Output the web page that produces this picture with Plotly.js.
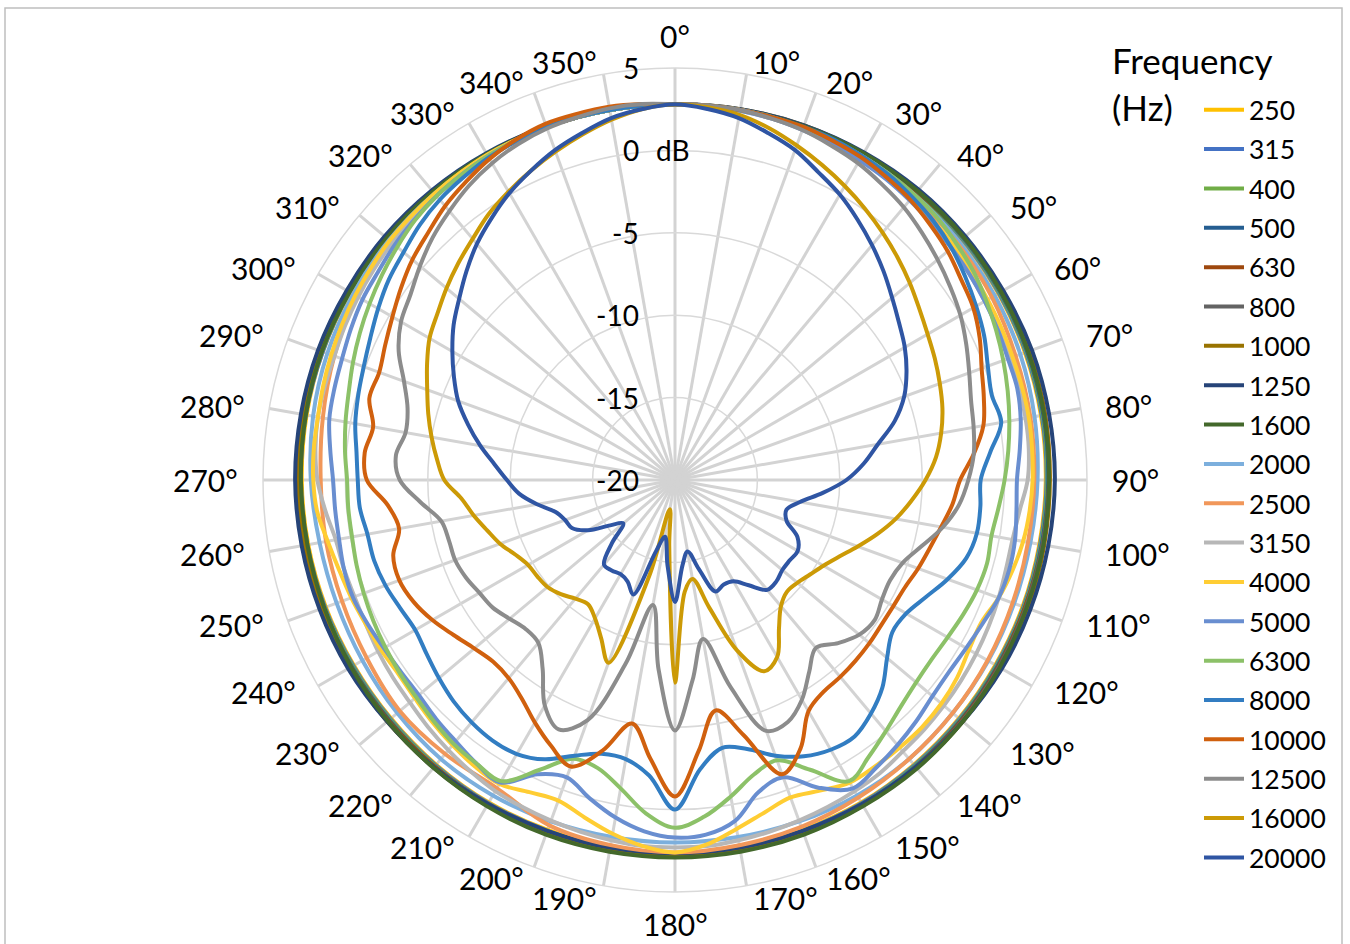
<!DOCTYPE html>
<html>
<head>
<meta charset="utf-8">
<script src="https://cdn.plot.ly/plotly-3.0.1.min.js"></script>
<style>html,body{margin:0;padding:0;background:#fff;}#chart{width:1350px;height:944px;}</style>
</head>
<body>
<div id="chart"></div>
<script>
// Angle grids (degrees, clockwise from the top)
const ang10 = [0,10,20,30,40,50,60,70,80,90,100,110,120,130,140,150,160,170,180,190,200,210,220,230,240,250,260,270,280,290,300,310,320,330,340,350];
const ang5 = [0,5,10,15,20,25,30,35,40,45,50,55,60,65,70,75,80,85,90,95,100,105,110,115,120,125,130,135,140,145,150,155,160,165,170,175,180,185,190,195,200,205,210,215,220,225,230,235,240,245,250,255,260,265,270,275,280,285,290,295,300,305,310,315,320,325,330,335,340,345,350,355];

// Frequency labels (Hz)
const freqs = ['250','315','400','500','630','800','1000','1250','1600','2000','2500','3150','4000','5000','6300','8000','10000','12500','16000','20000'];
const colors = ['#FFC000','#4472C4','#70AD47','#255E91','#9E480E','#636363','#997300','#264478','#43682B','#7CAFDD','#F1975A','#B7B7B7','#FFCD33','#698ED0','#8CC168','#327DC2','#D0600E','#8C8C8C','#CC9A06','#2F55A3'];

// Levels in dB (10 degree grid)
const v250  = [2.8,2.8,2.75,2.7,2.7,2.7,2.65,2.6,2.55,2.5,2.45,2.45,2.45,2.5,2.55,2.6,2.6,2.65,2.65,2.65,2.6,2.6,2.55,2.5,2.5,2.55,2.6,2.65,2.7,2.75,2.75,2.8,2.8,2.8,2.8,2.8];
const v315  = [2.8,2.8,2.75,2.75,2.75,2.75,2.7,2.65,2.6,2.55,2.5,2.5,2.5,2.55,2.6,2.65,2.65,2.7,2.7,2.7,2.65,2.65,2.6,2.55,2.55,2.6,2.65,2.7,2.75,2.75,2.8,2.8,2.8,2.8,2.8,2.8];
const v400  = [2.8,2.8,2.8,2.8,2.8,2.8,2.75,2.7,2.65,2.6,2.55,2.55,2.55,2.6,2.65,2.7,2.7,2.75,2.75,2.75,2.7,2.7,2.65,2.6,2.6,2.65,2.7,2.75,2.8,2.8,2.8,2.8,2.8,2.8,2.8,2.8];
const v500  = [2.8,2.8,2.8,2.8,2.85,2.85,2.8,2.75,2.7,2.65,2.6,2.6,2.6,2.65,2.7,2.75,2.75,2.75,2.75,2.75,2.75,2.7,2.7,2.65,2.65,2.7,2.75,2.8,2.8,2.85,2.85,2.85,2.8,2.8,2.8,2.8];
const v630  = [2.8,2.8,2.8,2.85,2.85,2.9,2.9,2.85,2.8,2.7,2.65,2.6,2.65,2.7,2.75,2.8,2.8,2.8,2.8,2.8,2.8,2.75,2.7,2.7,2.7,2.75,2.8,2.85,2.85,2.9,2.9,2.85,2.85,2.8,2.8,2.8];
const v800  = [2.8,2.8,2.85,2.85,2.9,2.9,2.85,2.8,2.75,2.7,2.65,2.65,2.7,2.75,2.8,2.8,2.8,2.75,2.75,2.75,2.8,2.8,2.8,2.75,2.7,2.7,2.75,2.8,2.85,2.9,2.9,2.9,2.85,2.85,2.8,2.8];
const v1000 = [2.8,2.85,2.9,2.9,2.95,2.95,2.9,2.85,2.8,2.75,2.75,2.8,2.8,2.8,2.8,2.75,2.7,2.7,2.7,2.7,2.7,2.7,2.75,2.8,2.8,2.8,2.85,2.9,2.9,2.9,2.9,2.9,2.9,2.85,2.85,2.8];
const v1250 = [2.8,2.85,2.9,2.95,3.0,3.0,3.0,3.05,3.05,3.05,3.0,2.95,2.9,2.8,2.75,2.7,2.65,2.65,2.65,2.65,2.65,2.7,2.75,2.8,2.9,2.95,3.0,3.05,3.05,3.05,3.0,3.0,2.95,2.9,2.85,2.8];
const v1600 = [2.8,2.8,2.85,2.9,2.9,2.9,2.85,2.8,2.75,2.7,2.7,2.7,2.75,2.8,2.85,2.85,2.9,2.9,2.9,2.9,2.9,2.85,2.8,2.75,2.7,2.65,2.65,2.7,2.75,2.8,2.8,2.85,2.85,2.85,2.8,2.8];
const v2000 = [2.8,2.8,2.75,2.7,2.6,2.5,2.4,2.3,2.15,2.0,1.9,1.9,1.95,2.0,2.1,2.1,2.05,2.0,2.0,2.0,2.05,2.1,2.1,2.0,1.9,1.85,1.9,2.1,2.3,2.45,2.55,2.65,2.7,2.75,2.8,2.8];
const v2500 = [2.8,2.8,2.75,2.65,2.5,2.35,2.2,2.0,1.9,1.8,1.75,1.8,1.9,2.0,2.1,2.25,2.4,2.5,2.6,2.5,2.3,1.6,1.7,1.8,1.6,1.5,1.5,1.5,1.7,2.0,2.3,2.5,2.65,2.75,2.8,2.8];

// Levels in dB (5 degree grid)
const v3150 = [2.8,2.8,2.75,2.7,2.65,2.55,2.45,2.35,2.2,2.05,1.9,1.8,1.7,1.65,1.6,1.6,1.6,1.55,1.4,1.0,0.8,0.8,0.9,1.0,1.1,1.2,1.3,1.4,1.5,1.7,1.8,1.9,2.0,2.1,2.2,2.3,2.3,2.3,2.2,2.1,2.0,1.9,1.8,1.6,1.4,1.2,1.0,0.9,0.8,0.7,0.7,0.8,0.9,1.3,1.7,1.9,2.0,2.0,2.0,2.1,2.2,2.3,2.4,2.5,2.6,2.65,2.7,2.75,2.8,2.8,2.8,2.8];
const v4000 = [2.8,2.8,2.8,2.75,2.7,2.6,2.5,2.4,2.3,2.2,2.1,2.0,1.9,1.85,1.8,1.8,1.8,1.75,1.7,1.6,1.45,1.2,0.9,0.5,0.6,0.9,1.1,1.2,1.2,1.2,1.2,0.8,0.5,0.9,1.5,2.2,2.6,2.3,1.8,1.2,0.7,0.9,1.3,1.2,1.0,0.8,0.6,0.5,0.6,0.7,0.9,1.1,1.4,1.8,1.95,2.0,2.0,2.1,2.2,2.3,2.4,2.5,2.6,2.65,2.7,2.75,2.8,2.8,2.8,2.8,2.8,2.8];
const v5000 = [2.8,2.8,2.75,2.7,2.6,2.5,2.4,2.3,2.15,2.0,1.9,1.8,1.7,1.6,1.5,1.5,1.3,1.0,0.75,0.8,0.95,1.0,0.9,0.6,0.4,0.3,0.4,0.7,1.0,1.3,1.6,0.6,-0.8,-0.4,1.0,1.6,1.7,1.4,0.8,0.0,-0.8,-0.3,1.2,1.0,0.7,0.5,0.3,0.3,0.4,0.6,0.8,0.8,0.7,0.7,0.75,1.0,1.3,1.4,1.5,1.7,1.9,2.0,2.2,2.35,2.5,2.6,2.7,2.75,2.8,2.8,2.8,2.8];
const v6300 = [2.8,2.8,2.8,2.8,2.75,2.75,2.7,2.65,2.6,2.5,2.3,2.1,1.8,1.5,1.2,0.9,0.6,0.3,0.0,-0.3,-0.5,-0.4,-0.5,-0.7,-0.9,-1.0,-0.9,-0.6,-0.1,0.5,1.1,-0.6,-1.9,-1.5,-0.5,0.5,1.1,0.3,-1.0,-1.9,-2.0,-0.6,1.1,1.0,0.9,0.7,0.5,0.4,0.3,0.2,0.1,0.0,-0.1,-0.1,-0.1,0.1,0.3,0.5,0.8,1.1,1.4,1.7,2.0,2.3,2.5,2.6,2.7,2.75,2.8,2.8,2.8,2.8];
const v8000 = [2.8,2.8,2.8,2.8,2.8,2.8,2.7,2.6,2.4,2.2,1.9,1.5,1.1,0.7,0.2,-0.1,0.1,-0.8,-1.45,-1.4,-1.4,-1.7,-2.4,-3.2,-3.8,-3.9,-3.2,-2.2,-1.5,-1.0,-1.1,-1.5,-2.2,-3.1,-3.5,-2.4,0.0,-2.0,-2.8,-2.8,-2.2,-1.3,-0.8,-0.7,-0.8,-1.0,-1.3,-1.6,-1.8,-1.6,-1.3,-1.1,-1.05,-0.8,-0.75,-0.6,-0.3,-0.1,0.1,0.4,0.8,1.2,1.5,1.9,2.2,2.4,2.6,2.7,2.8,2.8,2.8,2.8];
const v10000 = [2.8,2.8,2.8,2.8,2.8,2.7,2.6,2.4,2.2,1.9,1.6,1.2,0.9,0.4,-0.2,-0.6,-1.0,-1.8,-2.7,-3.1,-3.6,-4.0,-4.3,-4.6,-4.7,-4.7,-4.6,-4.5,-4.4,-4.3,-3.8,-2.0,-1.0,-4.0,-5.8,-3.5,-0.8,-3.0,-5.0,-3.0,-1.5,-2.2,-3.0,-3.8,-4.3,-4.4,-4.1,-3.6,-3.0,-2.5,-2.2,-2.3,-3.0,-2.5,-1.3,-1.1,-1.4,-0.8,-0.9,-0.6,-0.2,0.3,0.8,1.2,1.7,2.1,2.5,2.8,3.0,3.0,3.0,2.9];
const v12500 = [2.8,2.8,2.8,2.7,2.6,2.4,2.2,1.9,1.6,1.2,0.8,0.4,0.0,-0.5,-1.0,-1.4,-1.6,-1.8,-2.2,-2.7,-3.5,-4.5,-5.3,-5.6,-5.5,-5.2,-5.4,-6.0,-6.7,-5.8,-4.6,-3.8,-3.8,-7.0,-10.2,-7.8,-4.8,-8.5,-12.3,-8.5,-4.5,-3.3,-4.2,-6.0,-7.1,-7.2,-6.9,-6.5,-6.3,-6.0,-5.8,-5.8,-5.6,-4.5,-3.3,-3.0,-3.4,-3.2,-2.5,-1.5,-0.8,-0.4,0.2,0.8,1.3,1.8,2.2,2.5,2.7,2.8,2.9,2.9];
const v16000 = [2.8,2.7,2.5,2.1,1.6,1.1,0.6,0.1,-0.4,-0.9,-1.4,-1.9,-2.3,-2.6,-2.9,-3.2,-3.6,-4.1,-4.8,-5.6,-6.4,-7.3,-8.2,-9.0,-9.6,-10.0,-10.3,-10.4,-10.0,-9.0,-7.6,-7.2,-9.0,-12.0,-13.9,-13.2,-7.7,-16.0,-18.2,-14.0,-8.2,-9.4,-10.3,-10.8,-10.6,-10.2,-9.9,-9.8,-9.7,-9.3,-8.7,-8.2,-7.6,-7.0,-6.0,-5.5,-5.0,-4.5,-4.0,-3.4,-2.8,-2.4,-1.9,-1.4,-0.9,-0.3,0.2,0.7,1.2,1.7,2.2,2.6];
const v20000 = [2.8,2.6,2.3,1.8,1.3,0.6,0.0,-0.7,-1.4,-2.1,-2.8,-3.4,-3.9,-4.5,-5.2,-6.2,-7.5,-8.5,-9.6,-11.0,-12.3,-13.0,-12.8,-11.8,-11.4,-11.5,-11.5,-11.3,-11.3,-12.2,-12.9,-13.0,-12.8,-14.4,-15.6,-14.8,-12.6,-14.8,-16.5,-15.5,-12.6,-13.2,-13.4,-13.3,-13.3,-14.6,-15.9,-15.2,-13.9,-13.1,-12.9,-12.5,-11.5,-10.5,-9.8,-9.0,-8.0,-7.0,-6.0,-5.2,-4.4,-3.6,-2.9,-2.1,-1.3,-0.6,0.1,0.7,1.3,1.8,2.3,2.6];

const seriesVals = [v250,v315,v400,v500,v630,v800,v1000,v1250,v1600,v2000,v2500,v3150,v4000,v5000,v6300,v8000,v10000,v12500,v16000,v20000];

// Radial axis ticks
const rRange = [-20, 5];
const rTicks = [-20,-15,-10,-5,0,5];
const rTickText = ['-20','-15','-10','-5','0','5'];
// Angular tick labels (degrees)
const angTicks = ang10;

const traces = seriesVals.map((vals, i) => {
  const th = vals.length === ang10.length ? ang10 : ang5;
  return {
    type: 'scatterpolar',
    mode: 'lines',
    name: freqs[i],
    legendgroup: 'g' + i,
    theta: th.concat([th[0] + 360]),
    r: vals.concat([vals[0]]),
    line: {color: colors[i], width: 4, shape: 'spline', smoothing: 1},
    hoverinfo: 'skip'
  };
});

const W = 1350, H = 944;
const cx = 675, cy = 480, R = 412;
const FONT = 'Lato, "Open Sans", sans-serif';

// radial tick labels, placed left of the 0° spoke at each ring
const radialLabels = rTicks.map((t, i) => ({
  xref: 'paper', yref: 'paper',
  x: 641 / W,
  y: 1 - (cy - (t - rRange[0]) / (rRange[1] - rRange[0]) * R) / H,
  xanchor: 'right', yanchor: 'middle',
  text: rTickText[i], showarrow: false,
  font: {size: 28, family: FONT, color: '#000000'}
}));

// angular tick labels just outside the outer ring
const LX = 435, LY = 424;
const angularLabels = angTicks.map(a => {
  const rad = a * Math.PI / 180;
  const px = cx + LX * Math.sin(rad);
  const py = cy - LY * Math.cos(rad);
  let xa = 'center', ya = 'middle';
  if (a === 0) { ya = 'bottom'; }
  else if (a === 180) { ya = 'top'; }
  else if (a < 180) { xa = 'left'; }
  else { xa = 'right'; }
  return {
    xref: 'paper', yref: 'paper', x: px / W, y: 1 - py / H,
    xanchor: xa, yanchor: ya, text: a + '°', showarrow: false,
    font: {size: 30, family: FONT, color: '#000000'}
  };
});

const layout = {
  width: W, height: H,
  margin: {l: 0, r: 0, t: 0, b: 0},
  paper_bgcolor: '#ffffff',
  font: {family: FONT, color: '#000000'},
  showlegend: true,
  legend: {
    x: 1199 / W, xanchor: 'left',
    y: 1 - 86 / H, yanchor: 'top',
    font: {size: 26.5, family: FONT, color: '#000000'},
    bgcolor: 'rgba(0,0,0,0)',
    borderwidth: 0,
    itemwidth: 40,
    tracegroupgap: 1.9
  },
  polar: {
    domain: {x: [(cx - R) / W, (cx + R) / W], y: [(H - cy - R) / H, (H - cy + R) / H]},
    bgcolor: 'rgba(0,0,0,0)',
    angularaxis: {
      rotation: 90,
      direction: 'clockwise',
      tickmode: 'linear', tick0: 0, dtick: 10,
      showticklabels: false,
      ticks: '',
      showgrid: true, gridcolor: '#d3d3d3', gridwidth: 3,
      showline: true, linecolor: '#d9d9d9', linewidth: 1.5,
      layer: 'below traces'
    },
    radialaxis: {
      range: rRange,
      angle: 90,
      tickmode: 'array', tickvals: rTicks, ticktext: rTickText,
      showticklabels: false,
      ticks: '',
      showline: false,
      showgrid: true, gridcolor: '#d9d9d9', gridwidth: 1.5,
      layer: 'below traces'
    }
  },
  annotations: radialLabels.concat(angularLabels).concat([
    {xref: 'paper', yref: 'paper', x: 1110 / W, y: 1 - 60 / H, xanchor: 'left', yanchor: 'middle',
     text: 'Frequency', showarrow: false, font: {size: 35, family: FONT, color: '#000000'}},
    {xref: 'paper', yref: 'paper', x: 1110 / W, y: 1 - 107 / H, xanchor: 'left', yanchor: 'middle',
     text: '(Hz)', showarrow: false, font: {size: 35, family: FONT, color: '#000000'}},
    {xref: 'paper', yref: 'paper', x: 654 / W, y: 1 - (cy - 20 / 25 * R) / H, xanchor: 'left', yanchor: 'middle',
     text: 'dB', showarrow: false, font: {size: 28, family: FONT, color: '#000000'}}
  ]),
  shapes: [
    {type: 'rect', xref: 'paper', yref: 'paper', x0: 5 / W, x1: 1342 / W, y0: -0.02, y1: 1 - 8 / H,
     line: {color: '#bfbfbf', width: 1.5}, fillcolor: 'rgba(0,0,0,0)', layer: 'below'}
  ]
};

Plotly.newPlot('chart', traces, layout, {displayModeBar: false, staticPlot: true});
</script>
</body>
</html>
